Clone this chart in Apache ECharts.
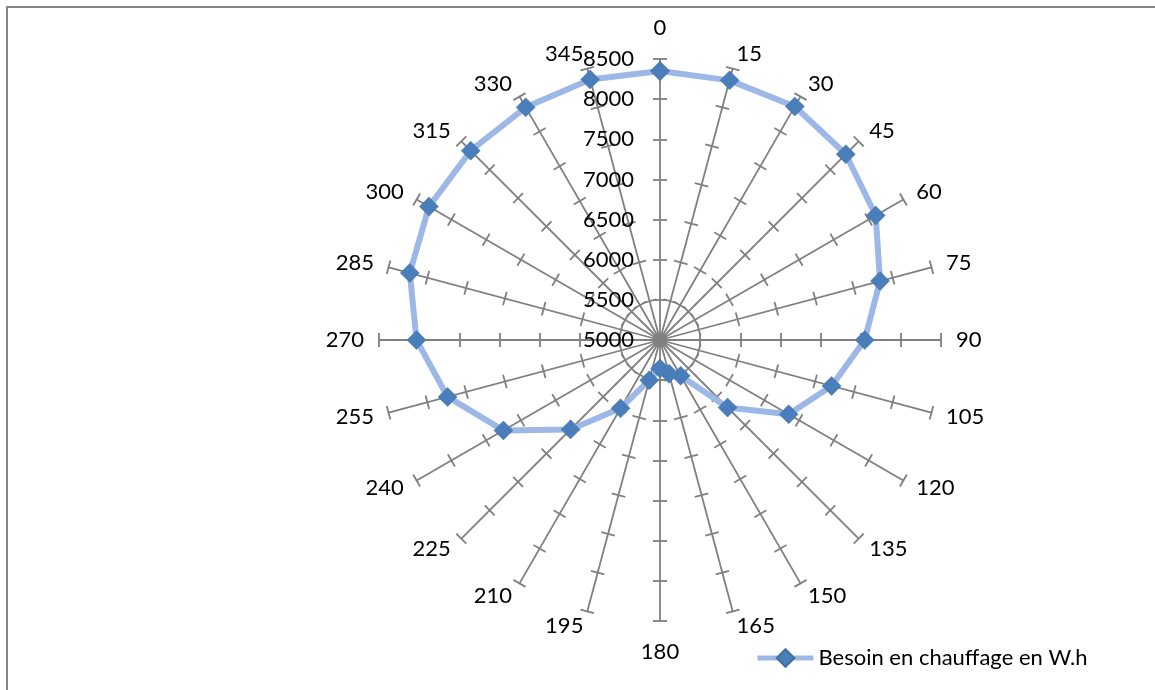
<!DOCTYPE html>
<html><head><meta charset="utf-8">
<script src="https://cdn.jsdelivr.net/npm/echarts@6/dist/echarts.min.js"></script>
<style>
html,body{margin:0;padding:0;background:#fff;overflow:hidden;}
#frame{position:absolute;left:6px;top:6px;width:1300px;height:800px;border-left:2px solid #868686;border-top:2px solid #868686;}
#chart{position:absolute;left:0;top:0;width:1155px;height:690px;}
</style></head><body>
<div id="frame"></div>
<div id="chart"></div>
<script>
// ---- data ----
const angles = ['0','15','30','45','60','75','90','105','120','135','150','165',
                '180','195','210','225','240','255','270','285','300','315','330','345'];
const heatingNeed = [8350, 8348, 8359, 8273, 8102, 7837, 7550, 7213, 6851, 6190, 5515, 5435,
                     5354, 5518, 5983, 6577, 7252, 7739, 8033, 8226, 8323, 8335, 8346, 8360];
const valueTicks = [5000, 5500, 6000, 6500, 7000, 7500, 8000, 8500];
const seriesName = 'Besoin en chauffage en W.h';

// ---- build ----
const vMin = valueTicks[0], vMax = valueTicks[valueTicks.length - 1];
const splitN = valueTicks.length - 1;
const FONT = 'Lato, "Open Sans", sans-serif';
const CX = 660, CY = 340, R = 281;
const grey = '#808080';

// ECharts radar lays indicators out counter-clockwise: reorder so they read clockwise
const order = [0].concat(angles.map((a, i) => i).slice(1).reverse());
function indicators(withLabel) {
  return order.map((i, k) => {
    const o = { name: angles[i], min: vMin, max: vMax };
    if (i === 0 || i === 12) o.nameGap = 20;
    if (withLabel && k === 0) {
      o.axisLabel = { show: true, fontSize: 22, color: '#000', fontFamily: FONT, margin: 26,
                      formatter: v => String(v) };
    }
    return o;
  });
}
function radar(tickLen, main) {
  return {
    center: [CX, CY], radius: R, startAngle: 90, splitNumber: splitN, shape: 'polygon',
    indicator: indicators(main),
    axisName: { show: main, color: '#000', fontSize: 22, fontFamily: FONT },
    nameGap: 15,
    axisLine: { show: main, lineStyle: { color: grey, width: 1.8 } },
    axisTick: { show: true, length: tickLen, lineStyle: { color: grey, width: 1.8 } },
    axisLabel: { show: false },
    splitLine: { show: false },
    splitArea: { show: false }
  };
}

const lineData = heatingNeed.map((v, i) => [v, Number(angles[i])]);
lineData.push([heatingNeed[0], 360]); // close the loop

const chart = echarts.init(document.getElementById('chart'), null, { renderer: 'canvas' });
chart.setOption({
  animation: false,
  backgroundColor: 'transparent',
  textStyle: { fontFamily: FONT },
  radar: [radar(7, true), radar(-7, false)],
  polar: { center: [CX, CY], radius: R },
  radiusAxis: { type: 'value', min: vMin, max: vMax, show: false },
  angleAxis: { type: 'value', min: 0, max: 360, startAngle: 90, clockwise: true, show: false },
  legend: {
    data: [seriesName], left: 755, top: 647, padding: 0,
    itemWidth: 56, itemHeight: 22,
    lineStyle: { width: 5 },
    textStyle: { fontSize: 22, color: '#000', fontFamily: FONT }
  },
  series: [{
    name: seriesName, type: 'line', coordinateSystem: 'polar',
    data: lineData, symbol: 'diamond', symbolSize: 19, z: 5,
    lineStyle: { color: '#9DB8E6', width: 6 },
    itemStyle: { color: '#4A7EBB', borderColor: '#41709F', borderWidth: 0.5 }
  }]
});
</script>
</body></html>
